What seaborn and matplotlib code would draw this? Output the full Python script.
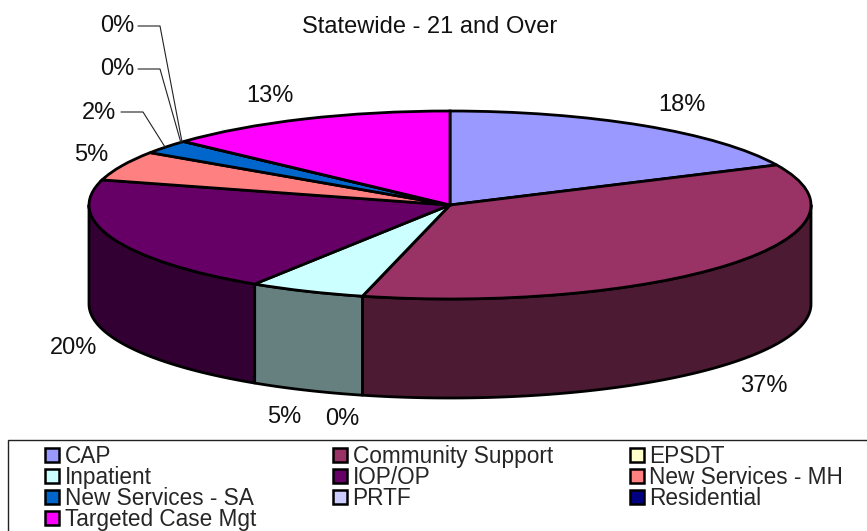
import numpy as np
import matplotlib
matplotlib.use("Agg")
import matplotlib.pyplot as plt
from matplotlib.patches import Patch, Rectangle
from matplotlib.transforms import Affine2D
import seaborn as sns

# Data
categories = ["CAP", "Community Support", "EPSDT", "Inpatient", "IOP/OP",
              "New Services - MH", "New Services - SA", "PRTF", "Residential",
              "Targeted Case Mgt"]
# shares as they appear on the drawn slices
shares = [18.0, 35.9, 0.0, 5.2, 20.2, 5.1, 2.4, 0.0, 0.0, 13.2]
share_labels = ["18%", "37%", "0%", "5%", "20%", "5%", "2%", "0%", "0%", "13%"]
palette_hex = ["#9999FF", "#993366", "#FFFFCC", "#CCFFFF", "#660066",
               "#FF8080", "#0066CC", "#CCCCFF", "#000080", "#FF00FF"]
title_text = "Statewide - 21 and Over"

# Layout (pixels in the 867x531 frame)
W, H = 867, 531
CX, CY, RX, RY, DEPTH = 450, 205, 361, 94, 99
label_px = [(682, 105), (764, 386), (342, 419), (284, 417), (74, 348),
            (91, 155), (99, 113), (117, 69), (117, 26), (270, 96)]
leaders_px = {6: [(121, 112), (143, 112), (165, 147)],
              7: [(138, 69), (160, 69), (181, 143)],
              8: [(138, 26), (160, 26), (182, 142)]}

sns.set_theme(style="white")
plt.rcParams["font.family"] = ["Liberation Sans", "DejaVu Sans"]
colors = sns.color_palette(palette_hex)

fig = plt.figure(figsize=(W / 100, H / 100), dpi=100)
ax = fig.add_axes([0, 0, 1, 1])
px = Affine2D().scale(1, -1).translate(0, H)

# Side wall of the disc
frac = np.cumsum([0] + shares) / sum(shares) * 2 * np.pi
depth = DEPTH / RY
for i, c in enumerate(colors):
    a, b = max(frac[i], np.pi / 2), min(frac[i + 1], 3 * np.pi / 2)
    if b <= a:
        continue
    t = np.linspace(a, b, 120)
    x, y = np.sin(t), np.cos(t)
    ax.fill(np.r_[x, x[::-1]], np.r_[y, y[::-1] - depth],
            facecolor=tuple(v * 0.5 for v in c), edgecolor="black",
            linewidth=2.0, joinstyle="round", zorder=1)

# Top face
wedges, _ = ax.pie(shares, colors=colors, startangle=90, counterclock=False,
                   radius=1, wedgeprops=dict(edgecolor="black", linewidth=2.0, zorder=2))
ax.set_aspect("auto")
ax.set_xlim(-CX / RX, (W - CX) / RX)
ax.set_ylim((CY - H) / RY, CY / RY)
ax.axis("off")

# Value labels and leader lines
for lab, (lx, ly) in zip(share_labels, label_px):
    ax.text(lx, ly, lab, transform=px, ha="center", va="center", fontsize=17, color="#111111")
for pts in leaders_px.values():
    xs, ys = zip(*pts)
    ax.plot(xs, ys, transform=px, color="#222222", lw=0.8, zorder=3, clip_on=False)

ax.text(430, 27, title_text, transform=px, ha="center", va="center", fontsize=17, color="#111111")

# Legend: frame and entries, filled row by row
ax.add_patch(Rectangle((8, 440), W, 100, transform=px, facecolor="white",
                       edgecolor="#222222", linewidth=1.0, zorder=4, clip_on=False))
order = [0, 3, 6, 9, 1, 4, 7, 2, 5, 8]
handles = [Patch(facecolor=colors[i], edgecolor="black", linewidth=1.8, label=categories[i]) for i in order]
leg = ax.legend(handles=handles, ncol=3, frameon=False, fontsize=16.3,
                loc="upper left", bbox_to_anchor=(45 / W, 1 - 445 / H),
                bbox_transform=fig.transFigure, borderpad=0, borderaxespad=0,
                handlelength=0.62, handleheight=0.62, handletextpad=0.25,
                labelspacing=-0.09, columnspacing=3.4)
leg.set_zorder(5)

fig.savefig("out.png", dpi=100)
